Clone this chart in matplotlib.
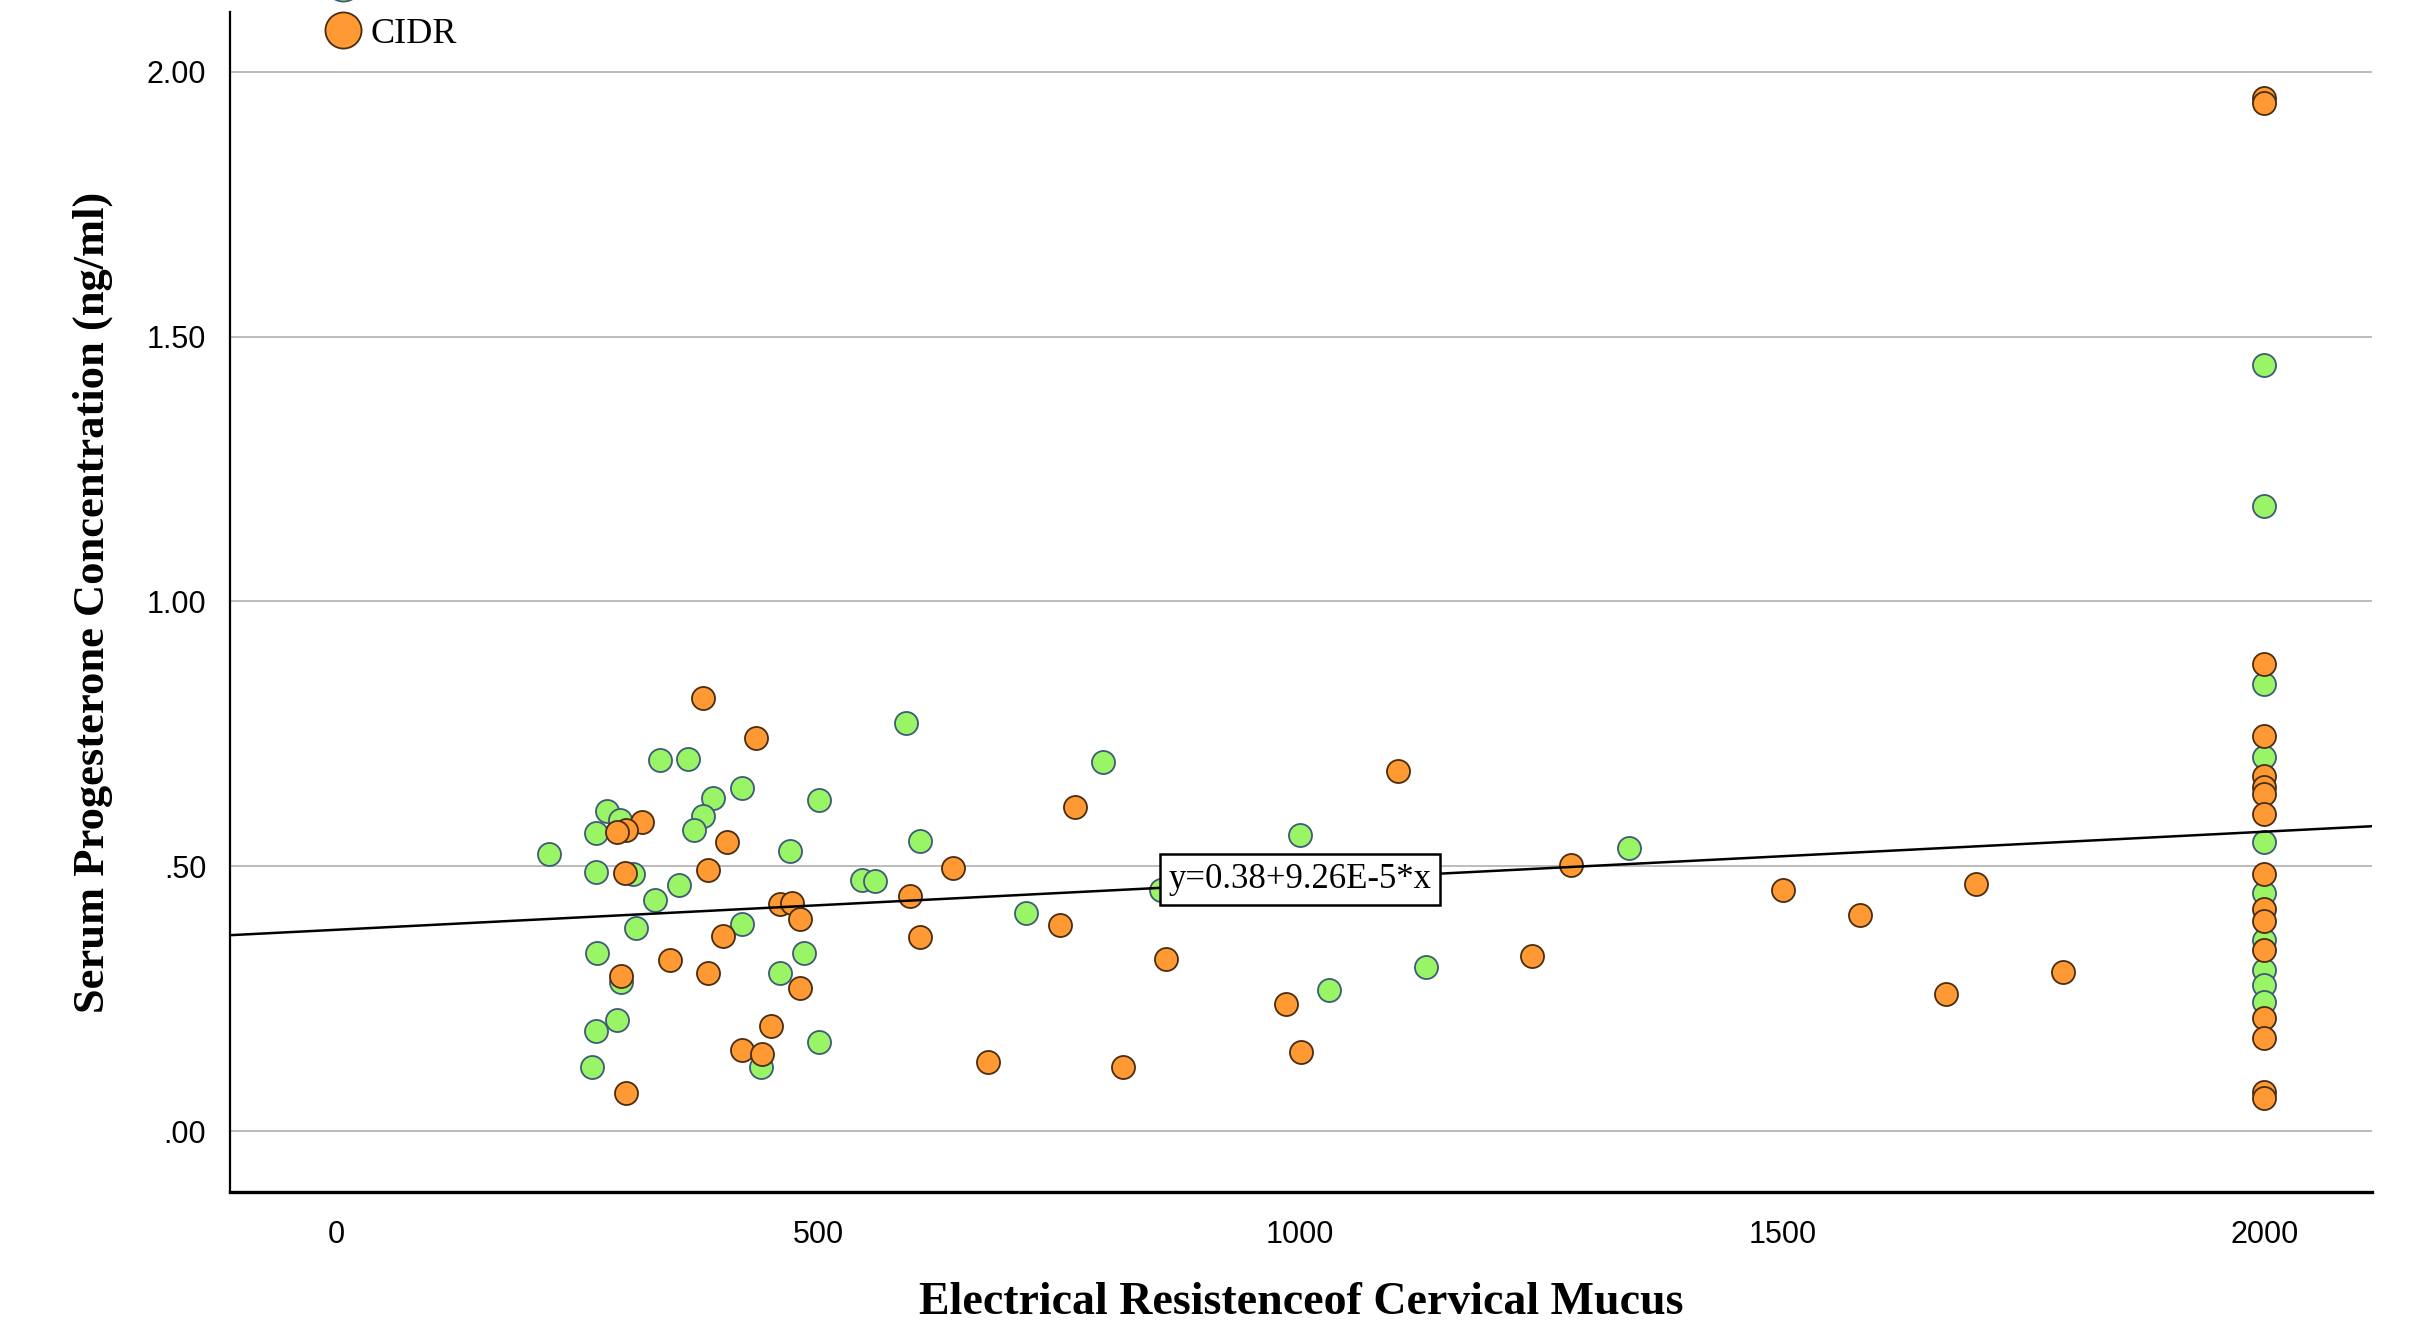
import numpy as np
import matplotlib
matplotlib.use('Agg')
import matplotlib.pyplot as plt
from matplotlib.lines import Line2D

plt.rcParams['font.family'] = ['Liberation Serif', 'DejaVu Serif']

# Control group (green)
ctrl_x = [336, 365, 391, 421, 501, 281, 295, 270, 381, 371, 471, 221, 270, 308,
          546, 559, 356, 331, 421, 311, 271, 485, 296, 460, 291, 270, 501, 441, 266,
          591, 795, 606, 716, 856, 1000, 1030, 1131, 1341,
          2000, 2000, 2000, 2000, 2000, 2000, 2000, 2000, 2000, 2000]
ctrl_y = [0.701, 0.702, 0.628, 0.647, 0.625, 0.605, 0.587, 0.563, 0.594, 0.568, 0.529,
          0.523, 0.490, 0.485, 0.474, 0.473, 0.465, 0.436, 0.391, 0.383, 0.336, 0.336,
          0.282, 0.298, 0.210, 0.188, 0.169, 0.121, 0.121,
          0.771, 0.696, 0.548, 0.411, 0.455, 0.559, 0.266, 0.310, 0.534,
          1.447, 1.181, 0.845, 0.707, 0.546, 0.449, 0.361, 0.304, 0.276, 0.244]

# CIDR group (orange)
cidr_x = [381, 436, 317, 301, 291, 406, 300, 386, 460, 473, 481, 401, 346, 386, 296,
          481, 451, 421, 442, 301,
          766, 640, 595, 751, 606, 861, 676, 816,
          1101, 985, 1001, 1281, 1240, 1501, 1581, 1701, 1670, 1791,
          2000, 2000, 2000, 2000, 2000, 2000, 2000, 2000, 2000, 2000, 2000, 2000,
          2000, 2000, 2000, 2000]
cidr_y = [0.817, 0.742, 0.584, 0.568, 0.565, 0.545, 0.487, 0.492, 0.429, 0.430, 0.400,
          0.368, 0.323, 0.299, 0.293, 0.270, 0.198, 0.153, 0.145, 0.072,
          0.611, 0.496, 0.444, 0.389, 0.367, 0.324, 0.131, 0.121,
          0.680, 0.240, 0.150, 0.502, 0.330, 0.455, 0.408, 0.466, 0.258, 0.301,
          1.950, 1.941, 0.882, 0.745, 0.670, 0.650, 0.636, 0.599, 0.485, 0.419,
          0.397, 0.342, 0.213, 0.175, 0.074, 0.062]

fit_intercept = 0.38
fit_slope = 9.26e-5
fit_label = 'y=0.38+9.26E-5*x'

x_ticks = [0, 500, 1000, 1500, 2000]
y_ticks = [0.0, 0.5, 1.0, 1.5, 2.0]
y_tick_labels = ['.00', '.50', '1.00', '1.50', '2.00']

green = '#99f566'
green_edge = '#3d5a78'
orange = '#ff9933'
orange_edge = '#4a2c10'

fig = plt.figure(figsize=(24.18, 13.25), dpi=100)
ax = fig.add_axes([0.0951, 0.1004, 0.886, 0.8906])

ax.scatter(ctrl_x, ctrl_y, s=275, c=green, edgecolors=green_edge, linewidths=1.3, zorder=3)
ax.scatter(cidr_x, cidr_y, s=275, c=orange, edgecolors=orange_edge, linewidths=1.3, zorder=3)

ax.set_xlim(-110, 2112)
ax.set_ylim(-0.115, 2.113)

xs = np.array(ax.get_xlim())
ax.plot(xs, fit_intercept + fit_slope * xs, color='black', lw=1.8, zorder=4)

ax.text(1000, 0.475, fit_label, ha='center', va='center', fontsize=25, zorder=5,
        bbox=dict(boxstyle='square,pad=0.25', fc='white', ec='black', lw=1.8))

ax.set_xticks(x_ticks)
ax.set_xticklabels([str(t) for t in x_ticks], family='Liberation Sans')
ax.set_yticks(y_ticks)
ax.set_yticklabels(y_tick_labels, family='Liberation Sans')
ax.tick_params(axis='both', length=0, labelsize=22)
ax.tick_params(axis='x', pad=20)
ax.tick_params(axis='y', pad=17)

ax.yaxis.grid(True, color='#aaaaaa', lw=1.1)
ax.set_axisbelow(True)
for side in ['top', 'right']:
    ax.spines[side].set_visible(False)
ax.spines['left'].set_linewidth(1.6)
ax.spines['bottom'].set_linewidth(2.4)

ax.set_xlabel('Electrical Resistenceof Cervical Mucus', fontsize=33, fontweight='bold', va='center')
ax.xaxis.set_label_coords(0.5, -0.094)
ax.set_ylabel('Serum Progesterone Concentration (ng/ml)', fontsize=32, fontweight='bold', va='center')
ax.yaxis.set_label_coords(-0.064, 0.5)

handles = [Line2D([], [], ls='none', marker='o', markersize=26, mfc=green, mec=green_edge, mew=1.3),
           Line2D([], [], ls='none', marker='o', markersize=26, mfc=orange, mec=orange_edge, mew=1.3)]
fig.legend(handles, ['Control', 'CIDR'], loc='lower left', bbox_to_anchor=(0.1344, 0.9615),
           frameon=False, borderpad=0, borderaxespad=0, handlelength=1.0, handletextpad=0.25,
           labelspacing=0.4, fontsize=26)

fig.savefig('out.png', dpi=100)
